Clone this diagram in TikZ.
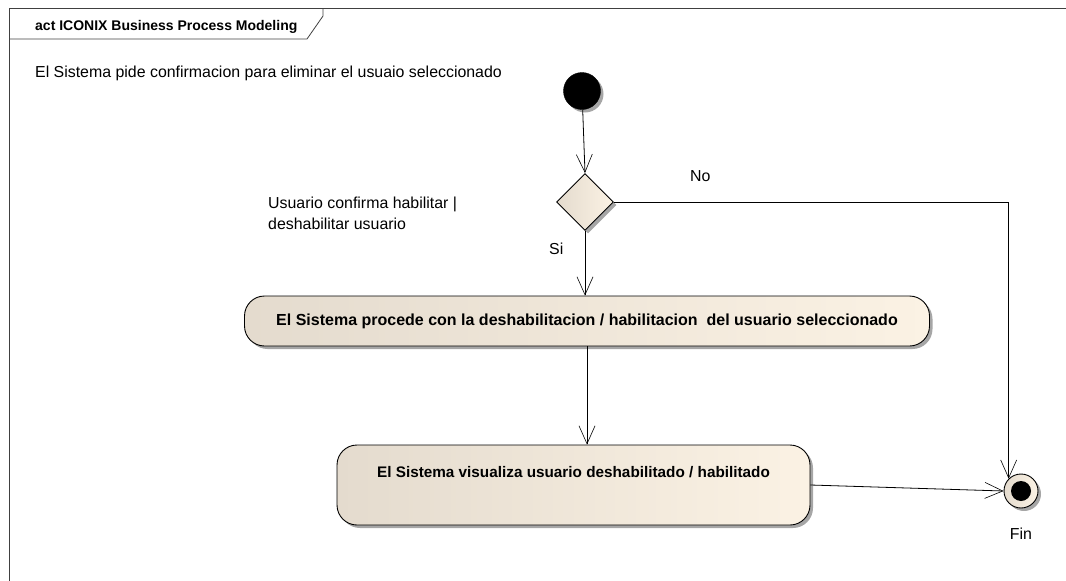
\documentclass[tikz,border=0pt]{standalone}
\usepackage{fontspec}
\setmainfont{Liberation Sans}
\usetikzlibrary{arrows.meta,shadows,shapes.geometric}
\definecolor{fillL}{HTML}{E4DBCE}
\definecolor{fillR}{HTML}{FBF2E4}
\tikzset{
  sh/.style={drop shadow={shadow xshift=3pt,shadow yshift=-3pt,fill=black!35,opacity=1}},
  act/.style={draw=black,line width=0.9pt,rounded corners=20pt,left color=fillL,right color=fillR,sh,
    font=\bfseries,inner sep=0pt},
  flow/.style={line width=0.8pt,-{Straight Barb[length=18pt,width=16pt,line width=0.6pt]}},
  lbl/.style={font=\fontsize{15.9}{21}\selectfont,inner sep=0pt},
}
\begin{document}
\begin{tikzpicture}[x=1pt,y=-1pt]
\useasboundingbox (0,0) rectangle (1066,581);
% frame
\draw[black!75,line width=1pt] (1066,8) -- (9,8) -- (9,581);
\draw[black!75,line width=0.8pt] (9,39) -- (307,39) -- (323,16) -- (323,8);
\node[anchor=base west,font=\fontsize{14}{15}\selectfont\bfseries,inner sep=0pt] (title) at (35,30) {act ICONIX Business Process Modeling};
\node[lbl,anchor=base west] (note) at (35,77) {El Sistema pide confirmacion para eliminar el usuaio seleccionado};
% initial
\node[circle,fill=black,draw=black,minimum size=37pt,inner sep=0pt,sh] (init) at (582,91) {};
% decision
\node[diamond,draw=black,line width=0.9pt,left color=fillL,right color=fillR,minimum width=57pt,minimum height=57pt,inner sep=0pt,sh] (dec) at (585,202) {};
% actions
\node[act,minimum width=685pt,minimum height=50pt,font=\fontsize{16}{18}\selectfont\bfseries] (a1) at (587,321) {El Sistema procede con la deshabilitacion / habilitacion~~del usuario seleccionado};
\node[act,minimum width=473pt,minimum height=80pt,text height=32pt,text depth=48pt,font=\fontsize{15.3}{18}\selectfont\bfseries] (a2) at (573.5,485) {El Sistema visualiza usuario deshabilitado / habilitado};
% final
\node[circle,draw=black,line width=0.9pt,left color=fillL,right color=fillR,minimum size=34pt,inner sep=0pt,sh] (fin) at (1021,491) {};
\fill[black] (fin.center) circle (10pt);
% labels
\node[lbl,anchor=base west] (no) at (690,181) {No};
\node[lbl,anchor=base west] (si) at (549,254) {Si};
\node[lbl,anchor=north west,align=left] (guard) at (268,197) {Usuario confirma habilitar |\\deshabilitar usuario};
\node[lbl,anchor=base] (finl) at (1021,539) {Fin};
% connectors
\draw[flow] (init) -- (dec.north);
\draw[flow] (dec.south) -- (dec.south |- a1.north);
\draw[flow] (a1.south) -- (a1.south |- a2.north);
\coordinate (corner) at (dec.east -| fin.north west);
\draw[flow] (dec.east) -- (corner) -- (fin.north west);
\draw[flow] (a2.east) -- (fin.west);
\end{tikzpicture}
\end{document}
